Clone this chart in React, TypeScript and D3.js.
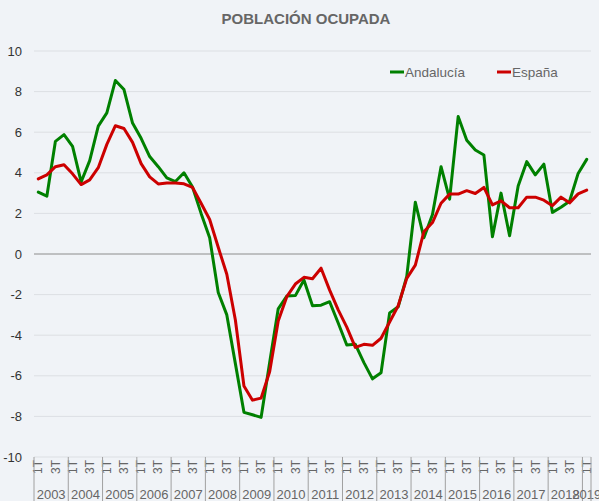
import React from "react";
import * as d3 from "d3";

const years = ["2003","2004","2005","2006","2007","2008","2009","2010","2011","2012","2013","2014","2015","2016","2017","2018","2019"];
const quarters = ["1T","2T","3T","4T"];
const shownQuarters = ["1T","3T"];
const yTicks = [-10,-8,-6,-4,-2,0,2,4,6,8,10];

const andalucia = [3.05,2.85,5.55,5.88,5.3,3.55,4.6,6.3,6.95,8.55,8.1,6.45,5.7,4.8,4.3,3.75,3.57,4.0,3.3,2.0,0.8,-1.9,-3.0,-5.4,-7.8,-7.92,-8.05,-5.35,-2.7,-2.07,-2.05,-1.28,-2.55,-2.52,-2.35,-3.4,-4.48,-4.45,-5.35,-6.15,-5.85,-2.9,-2.6,-1.1,2.55,0.8,1.95,4.3,2.7,6.77,5.6,5.12,4.88,0.85,3.0,0.9,3.35,4.55,3.9,4.43,2.05,2.3,2.6,3.97,4.66];
const espana = [3.7,3.9,4.3,4.4,3.95,3.42,3.65,4.25,5.4,6.32,6.18,5.5,4.45,3.8,3.45,3.5,3.5,3.46,3.28,2.5,1.7,0.33,-1.0,-3.25,-6.5,-7.2,-7.1,-5.8,-3.3,-2.1,-1.48,-1.15,-1.22,-0.7,-1.78,-2.75,-3.6,-4.6,-4.45,-4.5,-4.15,-3.35,-2.55,-1.2,-0.55,1.1,1.55,2.5,2.95,2.95,3.12,2.98,3.28,2.42,2.62,2.28,2.28,2.8,2.8,2.65,2.38,2.8,2.52,2.96,3.15];

const seriesNames = ["Andalucía","España"];
const seriesColors = ["#008000","#cc0000"];

const categories: { year: string; q: string; key: string }[] = [];
years.forEach((y) => {
  quarters.forEach((q) => {
    if (categories.length < andalucia.length) categories.push({ year: y, q, key: `${y}-${q}` });
  });
});

const W = 599, H = 501;
const left = 34, right = 591, top = 51, bottom = 457;
const font = "'Liberation Sans', Arial, Helvetica, sans-serif";

export default function App() {
  const x = d3.scaleBand<string>().domain(categories.map((c) => c.key)).range([left, right]).padding(0);
  const y = d3.scaleLinear().domain([-10, 10]).range([bottom, top]);
  const bw = x.bandwidth();
  const cx = (i: number) => (x(categories[i].key) as number) + bw / 2;
  const line = d3.line<number>().x((_, i) => cx(i)).y((d) => y(d));
  const data = [andalucia, espana];

  const yearGroups = years.map((yr) => {
    const idx = categories.map((c, i) => (c.year === yr ? i : -1)).filter((i) => i >= 0);
    const x0 = x(categories[idx[0]].key) as number;
    const x1 = (x(categories[idx[idx.length - 1]].key) as number) + bw;
    return { yr, x0, x1 };
  });

  return (
    <svg width={W} height={H} style={{ position: "absolute", left: 0, top: 0, background: "#f0f3f7" }} fontFamily={font}>
      <rect x={0} y={0} width={W} height={H} fill="#f0f3f7" />
      <text x={306} y={24} textAnchor="middle" fontSize={15} fontWeight="bold" fill="#666">POBLACIÓN OCUPADA</text>
      {yTicks.map((t) => (
        <g key={t}>
          <line x1={left} x2={right} y1={y(t)} y2={y(t)} stroke={t === 0 ? "#8c8c8c" : "#dcdfe3"} strokeWidth={1} />
          <text x={22} y={y(t)} dy="0.35em" textAnchor="end" fontSize={13} fill="#333">{t}</text>
        </g>
      ))}
      {categories.map((c, i) =>
        shownQuarters.includes(c.q) ? (
          <text key={c.key} transform={`translate(${cx(i)},${bottom + 3}) rotate(-90)`} textAnchor="end" dy="0.35em" fontSize={12} fill="#666">{c.q}</text>
        ) : null
      )}
      {yearGroups.map((g) => (
        <g key={g.yr}>
          <line x1={g.x0} x2={g.x0} y1={bottom} y2={H} stroke="#a0a0a0" />
          <text x={(g.x0 + g.x1) / 2} y={499} textAnchor="middle" fontSize={13} fill="#666">{g.yr}</text>
        </g>
      ))}
      <line x1={right} x2={right} y1={bottom} y2={H} stroke="#a0a0a0" />
      {data.map((d, k) => (
        <path key={k} d={line(d) as string} fill="none" stroke={seriesColors[k]} strokeWidth={3} strokeLinejoin="round" strokeLinecap="round" />
      ))}
      {seriesNames.map((n, k) => {
        const lx = [390, 497][k];
        return (
          <g key={n}>
            <line x1={lx} x2={lx + 14} y1={72} y2={72} stroke={seriesColors[k]} strokeWidth={3} />
            <text x={lx + 15} y={72} dy="0.35em" fontSize={13.5} fill="#666">{n}</text>
          </g>
        );
      })}
    </svg>
  );
}
